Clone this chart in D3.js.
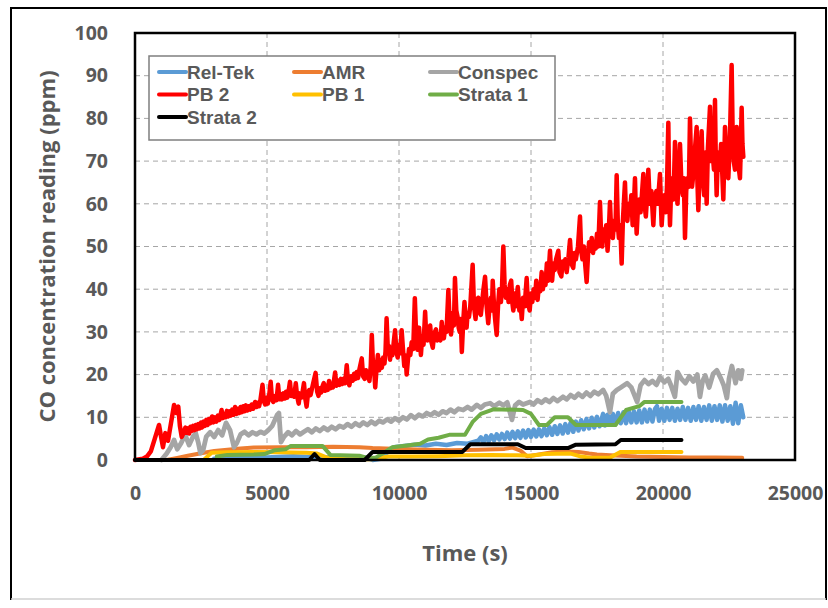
<!DOCTYPE html>
<html><head><meta charset="utf-8">
<script src="https://cdn.jsdelivr.net/npm/d3@7/dist/d3.min.js"></script>
<style>
html,body{margin:0;padding:0;background:#fff;}
svg{display:block;}
text{font-family:"Open Sans","Liberation Sans",sans-serif;}
</style></head>
<body>
<svg id="chart" width="828" height="608"></svg>
<script>
// ---- data (time s, CO ppm) ----
const seriesNames = ["Rel-Tek","AMR","Conspec","PB 2","PB 1","Strata 1","Strata 2"];
const seriesColors = ["#5B9BD5","#ED7D31","#A5A5A5","#FF0000","#FFC000","#70AD47","#000000"];
const xTicks = [0,5000,10000,15000,20000,25000];
const yTicks = [0,10,20,30,40,50,60,70,80,90,100];

const relTek = [[3000,0.3],[4000,0.8],[5000,0.6],[6000,0.9],[7000,0.5],[8000,0.8],[8800,0.5],[9000,0],[9300,0.3],[9600,2],[9800,3],[10200,3.3],[10600,3.6],[11000,3.4],[11400,3.8],[11800,3.5],[12200,4],[12600,3.8],[13000,4.5],[13100,5.3],[13200,4.2],[13300,5.6],[13400,4.4],[13500,5.8],[13600,4.6],[13700,6],[13800,4.8],[13900,6.1],[14000,4.9],[14100,6.4],[14200,5],[14300,6.6],[14400,5.1],[14500,6.7],[14600,5.2],[14700,6.9],[14800,5.3],[14900,7],[15000,5.4],[15100,7.1],[15200,5.5],[15300,7.2],[15400,5.6],[15500,7.4],[15600,5.8],[15700,7.7],[15800,5.9],[15900,7.9],[16000,6.1],[16100,8.1],[16200,6.2],[16300,8.4],[16400,6.4],[16500,8.7],[16600,6.6],[16700,9],[16800,6.9],[16900,9.3],[17000,7.2],[17100,9.6],[17200,7.4],[17300,9.9],[17400,7.6],[17500,10.1],[17600,7.9],[17730,10.8],[17800,8.1],[17900,10.6],[18000,8.3],[18100,10.8],[18200,8.4],[18300,11],[18400,8.6],[18500,11.2],[18600,8.6],[18700,11.4],[18800,8.8],[18900,11.4],[19000,8.8],[19100,11.6],[19200,8.8],[19300,11.8],[19400,9],[19500,11.8],[19600,9],[19700,12],[19770,12.6],[19850,9.2],[19950,12],[20050,9.2],[20150,12.2],[20250,9.4],[20350,12.2],[20450,9.2],[20550,12],[20650,9.4],[20750,12.4],[20850,9.4],[20950,12.2],[21050,9.2],[21150,12.4],[21250,9.4],[21350,12.6],[21450,9.2],[21550,12.4],[21650,9.4],[21750,12.8],[21850,9.2],[21950,12.6],[22050,9.4],[22150,12.8],[22250,9],[22350,12.8],[22450,9.2],[22550,12.6],[22650,8.5],[22750,13.4],[22850,8.6],[22950,12.8],[23040,10]];

const amr = [[1200,0],[1600,0.5],[2000,1],[2500,1.6],[3000,2.1],[3500,2.4],[4000,2.7],[4500,2.9],[5500,3],[6500,3],[7500,3.1],[8500,3],[9000,2.8],[10000,2.6],[11000,2.4],[12000,2.3],[13000,2.4],[14000,2.6],[14300,2.9],[14600,2.2],[14850,0.9],[15300,1.3],[15800,1.8],[16300,2],[16800,1.9],[17200,1.5],[17500,1.3],[18000,1.1],[19000,0.8],[20000,0.7],[21000,0.6],[22000,0.6],[23000,0.5]];

const conspec = [[1000,0],[1200,1.5],[1350,3],[1480,4.7],[1600,2.5],[1750,4],[1900,5.9],[2050,3.5],[2200,5.5],[2300,6.3],[2400,4],[2480,1.6],[2580,2.3],[2700,5.5],[2850,6.5],[3000,5.4],[3150,7],[3300,5.8],[3450,8.7],[3600,7],[3750,3],[3860,4],[4000,6],[4150,6.6],[4300,5.8],[4450,6.5],[4600,6],[4750,6.6],[4900,6.2],[5050,7],[5200,8],[5380,10.5],[5450,11],[5530,4.2],[5650,5.5],[5800,6.5],[5950,5.8],[6100,6.8],[6250,6],[6400,6.6],[6550,7.2],[6700,6.5],[6850,7.4],[7000,6.8],[7150,7.6],[7300,7],[7450,7.8],[7600,7.2],[7750,8],[7900,7.6],[8050,8.4],[8200,7.8],[8350,8.6],[8500,8],[8650,8.8],[8800,8.2],[8950,9],[9100,8.4],[9250,9.2],[9400,8.8],[9550,9.5],[9700,9],[9850,9.8],[10000,9.2],[10150,10],[10300,9.5],[10450,10.5],[10600,9.8],[10750,10.6],[10900,10.2],[11050,11],[11200,10.5],[11350,11.2],[11500,10.6],[11650,11.4],[11800,11],[11950,11.8],[12100,11.2],[12250,12],[12430,11.7],[12600,12.4],[12750,11.8],[12950,12.9],[13100,12.2],[13250,13],[13450,13.3],[13600,12.6],[13800,13.4],[13950,12.8],[14100,13.5],[14280,9.4],[14400,12.8],[14550,13.6],[14700,13],[14960,13.6],[15100,13],[15250,14],[15400,13.4],[15550,14.2],[15700,13.6],[15850,14.5],[16000,13.8],[16210,14.8],[16350,14.2],[16500,15.2],[16650,14.6],[16800,15.5],[16950,14.8],[17100,15.8],[17250,15],[17400,16],[17550,15.4],[17730,16.4],[17850,15],[17990,11.2],[18100,15.5],[18250,16.4],[18400,17],[18640,18],[18800,17],[19020,13.6],[19150,17.5],[19300,18.7],[19450,17.8],[19600,18.5],[19750,17.6],[19890,19.4],[20050,18.2],[20200,19],[20300,17.5],[20450,14.8],[20550,20.6],[20700,19],[20850,18],[21000,19.6],[21150,18.4],[21300,20],[21400,14.8],[21500,18.5],[21600,19.8],[21750,17],[21900,20.2],[22040,21],[22200,19],[22300,17.5],[22420,14.5],[22500,19],[22610,22],[22750,18],[22850,21],[22950,19],[23000,21]];

const pb2 = [[0,0],[300,0.3],[450,0.8],[600,2],[750,5],[910,8.2],[1000,5],[1060,3],[1150,6.3],[1250,4.5],[1400,10],[1480,12.9],[1560,11],[1640,12.5],[1700,8],[1770,5.4],[1850,6.5],[1910,7.6],[1950,6.4],[2000,7.4],[2050,6.2],[2100,7.8],[2150,6.8],[2200,8],[2250,7],[2300,8.2],[2350,7.2],[2400,8.4],[2450,7.4],[2500,8.8],[2540,7.6],[2600,9],[2650,8],[2700,9.4],[2750,8.2],[2800,9.6],[2850,8.6],[2920,10.2],[2970,8.8],[3030,10],[3080,9],[3140,10.4],[3200,9.4],[3280,11.7],[3330,9.8],[3380,10.8],[3430,10],[3480,11.5],[3530,10.2],[3580,11.4],[3630,10.4],[3680,11.8],[3740,10.6],[3790,12.4],[3850,10.8],[3900,12],[3950,11],[4000,12.4],[4050,11.2],[4100,12.6],[4150,11.4],[4200,12.8],[4250,11.6],[4300,12.6],[4360,11.8],[4420,13],[4480,12],[4550,13.6],[4600,12.4],[4650,13.4],[4700,12.6],[4750,14],[4830,17.6],[4880,13.8],[4930,13],[4980,14.6],[5030,13.2],[5080,15],[5140,18.3],[5190,14.2],[5240,13.6],[5300,15],[5360,14],[5420,17.6],[5470,14.2],[5520,15.4],[5570,14.2],[5620,15.6],[5670,14.4],[5720,16],[5770,14.6],[5820,16.2],[5870,18.3],[5920,15],[5970,16],[6030,14.8],[6090,18],[6140,15],[6200,13.2],[6250,15.6],[6300,14.6],[6350,16],[6400,18],[6450,14.4],[6500,12.5],[6550,15.4],[6600,16.4],[6650,15.2],[6700,16.6],[6750,18],[6840,20.4],[6900,16],[6950,15],[7000,16.8],[7050,15.8],[7100,17.2],[7150,18],[7200,16.2],[7250,17.4],[7300,16.4],[7350,18.5],[7400,16.8],[7450,17.8],[7500,17],[7580,20.5],[7630,17.4],[7700,18.6],[7750,17.6],[7800,19],[7850,17.8],[7900,19],[7960,18],[8020,22.2],[8070,18.4],[8120,17.5],[8180,19.6],[8250,18.6],[8300,20.2],[8350,19],[8400,20.6],[8450,19.2],[8500,21.2],[8590,23.8],[8640,19.6],[8700,19],[8750,21],[8800,20.5],[8850,19.4],[8880,18.5],[8930,22],[8970,29.3],[9010,23],[9050,22],[9100,17],[9150,21.5],[9200,24.6],[9250,21],[9300,23.4],[9350,21.6],[9400,24],[9450,22.6],[9490,25.5],[9530,33.2],[9570,27],[9620,26.7],[9660,23.5],[9700,26],[9750,24.5],[9800,27.5],[9850,30.4],[9900,25.5],[9950,24],[10000,27],[10050,25],[10100,30.4],[10150,26],[10200,22],[10250,24.5],[10290,20],[10340,23.6],[10380,26],[10430,24.6],[10480,27.6],[10540,26],[10600,37.9],[10650,29],[10700,25.8],[10730,28.5],[10760,31],[10800,27],[10830,24.6],[10880,29],[10930,27],[10990,34.7],[11030,29],[11080,28],[11130,30.5],[11180,31.5],[11230,27.6],[11280,26.3],[11330,29.5],[11400,30.6],[11450,28],[11520,29.5],[11570,28],[11620,32.3],[11660,29],[11700,28.5],[11750,31],[11800,30],[11870,39.8],[11920,32],[11970,29.4],[12010,32],[12050,34.5],[12080,31.5],[12120,42.6],[12170,35],[12220,33.5],[12260,31],[12300,30],[12340,33],[12380,25.3],[12430,32],[12480,37],[12520,33],[12560,31],[12600,34.5],[12650,33.5],[12700,36],[12790,45.7],[12840,36],[12900,33],[12950,37],[13000,38],[13050,34.5],[13100,34],[13150,37],[13200,40],[13260,42.9],[13320,36],[13380,32],[13430,36],[13480,38],[13520,35],[13550,42],[13600,36],[13640,33],[13700,29.3],[13750,36],[13800,40],[13860,37],[13900,40],[13952,50],[14000,41],[14050,38],[14100,40],[14150,37],[14200,41],[14250,42],[14300,36.5],[14330,35],[14380,39],[14430,36],[14500,40.5],[14560,35],[14600,37],[14650,33],[14700,38],[14760,36],[14836,42.6],[14880,37],[14950,35],[15000,39],[15050,37],[15100,40],[15150,38],[15200,42],[15250,37.5],[15300,41],[15350,39.5],[15404,44],[15450,40],[15500,43],[15550,41],[15600,46],[15650,42],[15720,49],[15760,44],[15800,42],[15850,46],[15900,44.5],[15950,47],[16035,49],[16080,44],[16150,43],[16200,46.5],[16250,45],[16300,47],[16350,44],[16420,47.5],[16477,51.5],[16530,46],[16600,45],[16650,48.5],[16700,47],[16780,50],[16856,57],[16900,49],[16950,47],[17000,50],[17050,46],[17108,41.7],[17160,48],[17200,51],[17250,49],[17300,52],[17350,48.5],[17400,51],[17450,49.5],[17500,53],[17550,50],[17613,60.4],[17660,52],[17700,50],[17750,54],[17800,52.5],[17850,55],[17900,49],[17950,54],[17992,60.4],[18040,53],[18100,52],[18150,56],[18200,54],[18245,66.7],[18290,55],[18330,52],[18380,55],[18434,46],[18480,56],[18560,65],[18600,57],[18650,56],[18700,60],[18750,58],[18800,62],[18850,55],[18900,60],[18939,66],[18970,58],[19002,53],[19050,59],[19100,61],[19150,58],[19200,62],[19255,67],[19300,60],[19350,57],[19400,62],[19444,68],[19500,60],[19560,63],[19634,55],[19680,61],[19750,63],[19800,60],[19886,67],[19920,60],[19949,55],[20000,60],[20050,62],[20100,58],[20150,64],[20202,79],[20235,62],[20265,55],[20310,64],[20350,66],[20400,61],[20454,74.5],[20500,64],[20550,60],[20600,67],[20644,74],[20700,64],[20750,62],[20790,66],[20833,52],[20880,63],[20930,66],[20980,64],[21022,80],[21070,68],[21100,64],[21150,67],[21200,72],[21275,78],[21300,66],[21338,58.5],[21400,70],[21464,77],[21510,66],[21560,62],[21600,72],[21654,60],[21700,73],[21780,82.7],[21830,70],[21880,72],[21930,68],[21969,84.3],[22000,70],[22032,62],[22080,72],[22150,68],[22200,74],[22285,61],[22320,70],[22348,78],[22400,71],[22474,66],[22530,74],[22600,92.5],[22640,76],[22680,70],[22727,68],[22760,74],[22790,78],[22840,70],[22916,66],[22950,74],[22979,82.5],[23010,74],[23043,71]];

const pb1 = [[2600,0],[2900,1.7],[3500,1.8],[4500,1.9],[5500,1.8],[6500,1.7],[6900,1.5],[7300,0.5],[8000,0.2],[9000,0.2],[9600,0.8],[10500,0.8],[11500,0.9],[12500,1.1],[13500,1.2],[14500,1.1],[15000,1],[15500,1.4],[16500,1.5],[16900,0.8],[17300,0.5],[18000,0.6],[18400,1.9],[19500,1.9],[20700,1.9]];

const strata1 = [[3100,0.8],[3500,1.2],[4500,1.3],[4900,1.4],[5300,2.3],[5700,2.5],[5900,3.3],[7100,3.3],[7400,1.2],[8500,1],[8800,0.5],[9100,0.5],[9500,2],[9750,3],[10300,3.4],[10800,3.8],[11100,4.8],[11500,5.2],[11900,5.9],[12500,5.9],[12800,9],[13100,10.8],[13600,11.9],[14700,11.7],[15000,10.8],[15300,8.2],[15600,8.2],[15900,10],[16400,10],[16700,8.2],[18200,8.2],[18600,11.7],[19100,12.6],[19300,13.6],[20700,13.6]];

const strata2 = [[0,0],[6600,0],[6800,1.4],[7000,0],[8700,0],[9000,1.9],[12400,1.9],[12700,3.7],[14500,3.7],[14800,2.8],[16400,2.8],[16700,3.6],[18200,3.7],[18400,4.7],[20700,4.7]];

const seriesData = [relTek, amr, conspec, pb2, pb1, strata1, strata2];
const seriesWidth = [4.5, 4, 4.8, 4.5, 4, 4, 4];

// ---- drawing ----
const svg = d3.select("#chart");
const W = 828, H = 608;
const m = {left:135, right:795, top:33, bottom:460};
const x = d3.scaleLinear().domain([0,25000]).range([m.left, m.right]);
const y = d3.scaleLinear().domain([0,100]).range([m.bottom, m.top]);
const textCol = "#595959";

// outer frame
svg.append("rect").attr("x",0).attr("y",0).attr("width",W).attr("height",H).attr("fill","#fff");
svg.append("path").attr("d",`M11,600 L11,8 L826,8 L826,600`).attr("fill","none").attr("stroke","#000").attr("stroke-width",2);
svg.append("line").attr("x1",11).attr("x2",826).attr("y1",599).attr("y2",599).attr("stroke","#d0d0d0").attr("stroke-width",1.5);

// gridlines
const gGrid = svg.append("g");
gGrid.selectAll("line.h").data(yTicks.slice(1,-1)).join("line")
  .attr("x1",m.left).attr("x2",m.right).attr("y1",d=>y(d)).attr("y2",d=>y(d))
  .attr("stroke","#a6a6a6").attr("stroke-width",1).attr("stroke-dasharray","5,4");
gGrid.selectAll("line.v").data(xTicks.slice(1,-1)).join("line")
  .attr("y1",m.top).attr("y2",m.bottom).attr("x1",d=>x(d)).attr("x2",d=>x(d))
  .attr("stroke","#a6a6a6").attr("stroke-width",1).attr("stroke-dasharray","5,4");

// series
const line = d3.line().x(d=>x(d[0])).y(d=>y(d[1]));
const gLines = svg.append("g");
seriesData.forEach((s,i)=>{
  gLines.append("path").datum(s).attr("d",line)
    .attr("fill","none").attr("stroke",seriesColors[i])
    .attr("stroke-width", seriesWidth[i]).attr("stroke-linejoin","round").attr("stroke-linecap","round");
});

// plot border
svg.append("rect").attr("x",m.left).attr("y",m.top).attr("width",m.right-m.left).attr("height",m.bottom-m.top)
  .attr("fill","none").attr("stroke","#000").attr("stroke-width",2.5);

// axes
const yAxis = d3.axisLeft(y).tickValues(yTicks).tickSize(0).tickPadding(27);
const gy = svg.append("g").attr("transform",`translate(${m.left},0)`).call(yAxis);
const xAxis = d3.axisBottom(x).tickValues(xTicks).tickSize(0).tickPadding(26).tickFormat(d3.format("d"));
const gx = svg.append("g").attr("transform",`translate(0,${m.bottom})`).call(xAxis);
[gy,gx].forEach(g=>{
  g.select(".domain").remove();
  g.selectAll("text").attr("fill",textCol).style("font-size","19.5px").style("font-weight","700")
   .style("font-family","'Open Sans',sans-serif");
});

// axis titles
svg.append("text").attr("x",(m.left+m.right)/2).attr("y",561).attr("text-anchor","middle")
  .attr("fill",textCol).style("font-size","22px").style("font-weight","700").text("Time (s)");
svg.append("text").attr("transform",`translate(55,${(m.top+m.bottom)/2}) rotate(-90)`).attr("text-anchor","middle")
  .attr("fill",textCol).style("font-size","22px").style("font-weight","700").text("CO concentration reading (ppm)");

// legend
const lg = svg.append("g");
lg.append("rect").attr("x",149).attr("y",56).attr("width",406).attr("height",84)
  .attr("fill","#fff").attr("stroke","#7f7f7f").attr("stroke-width",1.5);
const colX = [159,294,430], rowY = [72,94.5,117];
seriesNames.forEach((n,i)=>{
  const cx = colX[i%3], cy = rowY[Math.floor(i/3)];
  lg.append("line").attr("x1",cx).attr("x2",cx+27).attr("y1",cy).attr("y2",cy)
    .attr("stroke",seriesColors[i]).attr("stroke-width",4).attr("stroke-linecap","round");
  lg.append("text").attr("x",cx+28).attr("y",cy).attr("dy","0.36em")
    .attr("fill",textCol).style("font-family","'Liberation Sans',Arial,sans-serif")
    .style("font-size","19px").style("font-weight","700").text(n);
});
</script>
</body></html>
